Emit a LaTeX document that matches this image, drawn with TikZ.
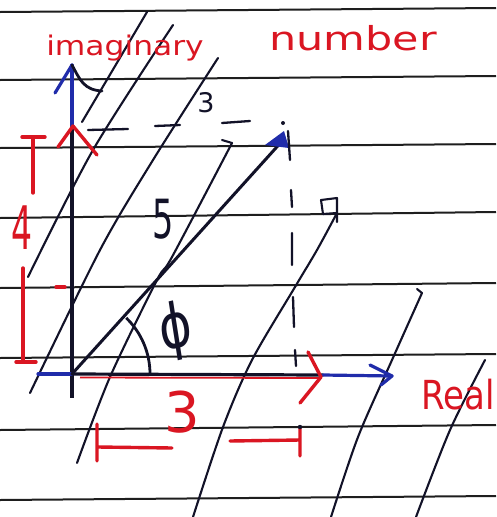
\documentclass[tikz,border=0pt]{standalone}
\usepackage{fontspec}
\setmainfont{DejaVu Sans}
\definecolor{inkred}{RGB}{218,22,34}
\definecolor{inkblue}{RGB}{32,44,170}
\definecolor{ink}{RGB}{18,18,40}
\definecolor{ruleink}{RGB}{30,30,30}
\begin{document}
\begin{tikzpicture}[x=1pt,y=-1pt,
  paper/.style={ruleink,line width=2pt},
  hatch/.style={ink,line width=2.1pt,line cap=round,line join=round},
  redpen/.style={inkred,line width=3.4pt,line cap=round,line join=round},
  bluepen/.style={inkblue,line width=3.2pt,line cap=round,line join=round},
  blackpen/.style={ink,line width=3.2pt,line cap=round,line join=round},
  redtext/.style={inkred,inner sep=0pt},
  inktext/.style={ink,inner sep=0pt}]
\fill[white] (0,0) rectangle (496,517);
\useasboundingbox (0,0) rectangle (496,517);

% ruled paper lines
\foreach \ya/\yb in {12/8,80/76,148/144,218/212,288/283,358/354,430/425,500/496}
  \draw[paper] (0,\ya) -- (496,\yb);

% hand-drawn slanted lines
\draw[hatch] (147,12) -- (82,122);
\draw[hatch] plot[smooth] coordinates {(173,25) (93,150) (28,277)};
\draw[hatch] plot[smooth] coordinates {(218,58) (153,160) (100,250) (30,393)};
\draw[hatch] (222,140) -- (232,143);
\draw[hatch] plot[smooth] coordinates {(232,143) (172,257) (157,280) (110,377) (77,463)};
\draw[hatch] (337,222) -- (337,198) -- (321,200) -- (323,214) -- (337,213);
\draw[hatch] plot[smooth] coordinates {(337,213) (317,250) (295,287) (252,360) (223,427) (193,517)};
\draw[hatch] (417,289) -- (422,293);
\draw[hatch] plot[smooth] coordinates {(422,293) (392,360) (358,437) (331,517)};
\draw[hatch] plot[smooth] coordinates {(485,360) (450,430) (416,517)};

% key points
\coordinate (O) at (72,374);
\coordinate (T) at (284,139);
\coordinate (Ytop) at (72,65);
\coordinate (Ymid) at (72,128);
\coordinate (Ybot) at (72,398);
\coordinate (Xl) at (38,374);
\coordinate (Xm) at (323,375);
\coordinate (Xr) at (392,376);

% red underlay on real axis
\draw[inkred,line width=1.8pt] (80,377.5) -- (320,378);

% axes
\draw[bluepen] (Ytop) -- (Ymid);
\draw[blackpen,line cap=butt] (Ymid) -- (Ybot);
\draw[bluepen] (Xl) -- (O);
\draw[blackpen] (O) -- (Xm);
\draw[bluepen] (Xm) -- (Xr);

% arrowheads
\draw[bluepen] (55,93) -- (Ytop);
\draw[ink,line width=2.8pt,line cap=round] (Ytop) .. controls (80,80) and (84,90) .. (102,91);
\draw[redpen] (58,147) -- (73,126) -- (97,155);
\draw[bluepen] (370,365) -- (Xr) -- (381,385);
\draw[redpen] (308,352) -- (321,377) -- (300,403);

% vector
\draw[ink,line width=3pt,line cap=round] (O) -- (T);
\fill[inkblue] (265,145) -- (284,131) -- (289,148) -- cycle;
\fill[ink] (283,123) circle[radius=2];

% dashed projections
\draw[hatch,line width=2.3pt] (288,131)--(290,160) (291,190)--(292,207) (292,233)--(292,265) (293,297)--(294,327) (295,350)--(296,366);
\draw[hatch,line width=2.3pt] (88,130)--(128,129) (155,126)--(180,125) (222,123)--(250,121);

% angle arc
\draw[ink,line width=2.8pt] (150,374) arc[start angle=0,end angle=-46,radius=78];

% red measure brackets
\draw[redpen] (22,137) -- (45,137) (33,137) -- (33,193);
\draw[redpen] (23,268) -- (23,361) (16,362) -- (36,362);
\draw[redpen] (56,287) -- (65,287);
\draw[redpen] (97,424) -- (97,461) (98,447) -- (172,448);
\draw[redpen] (230,441) -- (300,440) (300,427) -- (300,456);
\fill[ink] (300,427) circle[radius=2.2];

% labels
\node[redtext,font=\fontsize{27}{27}\selectfont,xscale=1.16,anchor=base] (imag) at (125,55) {imaginary};
\node[redtext,font=\fontsize{33}{33}\selectfont,xscale=1.3,anchor=base] (num) at (353,50) {number};
\node[redtext,font=\fontsize{40}{40}\selectfont,xscale=0.85,anchor=base west] (real) at (421,409) {Real};
\node[redtext,font=\fontsize{60}{60}\selectfont,xscale=0.55] (four) at (22,228) {4};
\node[redtext,font=\fontsize{56}{56}\selectfont] (three) at (182,412) {3};
\node[inktext,font=\fontsize{27}{27}\selectfont] (tthree) at (206,103) {3};
\node[inktext,font=\fontsize{54}{54}\selectfont,xscale=0.62] (five) at (163,219) {5};
\node[inktext,font=\fontsize{62}{62}\selectfont,xscale=0.8,rotate=11] (phi) at (176,331) {ϕ};
\end{tikzpicture}
\end{document}
